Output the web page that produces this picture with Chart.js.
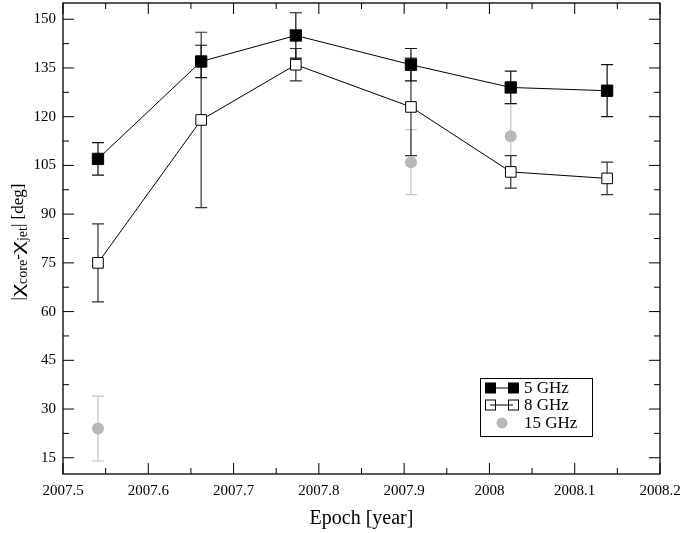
<!DOCTYPE html>
<html>
<head>
<meta charset="utf-8">
<script src="https://cdn.jsdelivr.net/npm/chart.js@4.4.1/dist/chart.umd.min.js"></script>
<style>
  html, body { margin: 0; padding: 0; background: #fff; }
  #wrap { width: 682px; height: 533px; }
</style>
</head>
<body>
<div id="wrap"><canvas id="chart"></canvas></div>
<script>
// Data
const epochs = [2007.541, 2007.662, 2007.773, 2007.908, 2008.025, 2008.138];
const deg5 = [107, 137, 145, 136, 129, 128];
const err5 = [5, 5, 7, 5, 5, 8];
const deg8 = [75, 119, 136, 123, 103, 101];
const err8 = [12, 27, 5, 15, 5, 5];
const epochs15 = [2007.541, 2007.908, 2008.025];
const deg15 = [24, 106, 114];
const err15 = [10, 10, 10];

const xTicks = [2007.5, 2007.6, 2007.7, 2007.8, 2007.9, 2008.0, 2008.1, 2008.2];
const yTicks = [15, 30, 45, 60, 75, 90, 105, 120, 135, 150];

const FONT = "'Liberation Serif', 'DejaVu Serif', serif";
const GREY = '#b8b8b8';

const toPoints = (xs, ys) => xs.map((x, i) => ({ x: x, y: ys[i] }));

// Error bars, drawn under the markers
const errorBars = {
  id: 'errorBars',
  beforeDatasetsDraw(chart) {
    const ctx = chart.ctx;
    const xs = chart.scales.x, ys = chart.scales.y;
    const sets = [
      [epochs15, deg15, err15, '#c4c4c4'],
      [epochs, deg8, err8, '#333'],
      [epochs, deg5, err5, '#111']
    ];
    ctx.save();
    ctx.lineWidth = 1.2;
    sets.forEach(([xv, yv, ev, color]) => {
      ctx.strokeStyle = color;
      xv.forEach((x, i) => {
        const px = xs.getPixelForValue(x);
        const top = ys.getPixelForValue(yv[i] + ev[i]);
        const bot = ys.getPixelForValue(yv[i] - ev[i]);
        ctx.beginPath();
        ctx.moveTo(px, top); ctx.lineTo(px, bot);
        ctx.moveTo(px - 6, top); ctx.lineTo(px + 6, top);
        ctx.moveTo(px - 6, bot); ctx.lineTo(px + 6, bot);
        ctx.stroke();
      });
    });
    ctx.restore();
  }
};

// Frame, inward ticks, axis titles and legend
const frame = {
  id: 'frame',
  afterDraw(chart) {
    const ctx = chart.ctx;
    const a = chart.chartArea;
    const xs = chart.scales.x, ys = chart.scales.y;
    ctx.save();
    ctx.strokeStyle = '#000';
    ctx.lineWidth = 1.3;
    ctx.strokeRect(a.left, a.top, a.right - a.left, a.bottom - a.top);

    ctx.lineWidth = 1;
    ctx.beginPath();
    for (let i = 0; i < xTicks.length; i++) {
      const px = xs.getPixelForValue(xTicks[i]);
      ctx.moveTo(px, a.bottom); ctx.lineTo(px, a.bottom - 11);
      ctx.moveTo(px, a.top); ctx.lineTo(px, a.top + 11);
      if (i < xTicks.length - 1) {
        const pm = xs.getPixelForValue((xTicks[i] + xTicks[i + 1]) / 2);
        ctx.moveTo(pm, a.bottom); ctx.lineTo(pm, a.bottom - 6);
        ctx.moveTo(pm, a.top); ctx.lineTo(pm, a.top + 6);
      }
    }
    const yAll = [];
    yTicks.forEach(v => { yAll.push([v, 11]); yAll.push([v + 7.5, 6]); });
    yAll.push([yTicks[0] - 7.5, 6]);
    yAll.forEach(([v, len]) => {
      if (v < ys.min || v > ys.max) return;
      const py = ys.getPixelForValue(v);
      ctx.moveTo(a.left, py); ctx.lineTo(a.left + len, py);
      ctx.moveTo(a.right, py); ctx.lineTo(a.right - len, py);
    });
    ctx.stroke();

    // x title
    ctx.fillStyle = '#000';
    ctx.font = '20px ' + FONT;
    ctx.textAlign = 'center';
    ctx.textBaseline = 'middle';
    ctx.fillText('Epoch [year]', (a.left + a.right) / 2, 519);

    // y title with subscripts; chi glyphs are stretched like the original
    const parts = [
      ['|', 17, 0, 1], ['\u03c7', 19, 0, 1.55], ['core', 14, 4, 1],
      ['-', 17, 0, 1], ['\u03c7', 19, 0, 1.55], ['jet', 14, 4, 1], ['| [deg]', 17, 0, 1]
    ];
    const widthOf = p => { ctx.font = p[1] + 'px ' + FONT; return ctx.measureText(p[0]).width * p[3]; };
    const total = parts.reduce((s, p) => s + widthOf(p), 0);
    ctx.translate(23, 242);
    ctx.rotate(-Math.PI / 2);
    ctx.textAlign = 'left';
    ctx.textBaseline = 'alphabetic';
    let cx = -total / 2;
    parts.forEach(p => {
      const w = widthOf(p);
      ctx.save();
      ctx.translate(cx, p[2]);
      ctx.scale(p[3], 1);
      ctx.fillText(p[0], 0, 0);
      ctx.restore();
      cx += w;
    });
    ctx.restore();

    // legend
    ctx.save();
    ctx.lineWidth = 1;
    ctx.strokeStyle = '#000';
    ctx.fillStyle = '#fff';
    ctx.fillRect(480, 378, 112, 58);
    ctx.strokeRect(480.5, 378.5, 112, 58);
    const rows = [
      ['5 GHz', 388, 'filled'], ['8 GHz', 405, 'open'], ['15 GHz', 423, 'dot']
    ];
    rows.forEach(([label, y, kind]) => {
      if (kind === 'dot') {
        ctx.fillStyle = GREY;
        ctx.beginPath();
        ctx.arc(502, y, 5.5, 0, Math.PI * 2);
        ctx.fill();
      } else {
        ctx.strokeStyle = '#000';
        ctx.beginPath();
        ctx.moveTo(490, y); ctx.lineTo(513, y);
        ctx.stroke();
        [485, 508].forEach(sx => {
          if (kind === 'filled') {
            ctx.fillStyle = '#000';
            ctx.fillRect(sx, y - 5.5, 11, 11);
          } else {
            ctx.strokeRect(sx + 0.5, y - 5, 10, 10);
          }
        });
      }
      ctx.fillStyle = '#000';
      ctx.font = '17px ' + FONT;
      ctx.textAlign = 'left';
      ctx.textBaseline = 'middle';
      ctx.fillText(label, 524, y + 1);
    });
    ctx.restore();
  }
};

new Chart(document.getElementById('chart'), {
  type: 'scatter',
  data: {
    datasets: [
      {
        label: '15 GHz',
        data: toPoints(epochs15, deg15),
        pointStyle: 'circle',
        pointRadius: 6,
        backgroundColor: GREY,
        borderColor: GREY,
        borderWidth: 0,
        showLine: false,
        order: 3
      },
      {
        label: '8 GHz',
        data: toPoints(epochs, deg8),
        pointStyle: 'rect',
        pointRadius: 7.5,
        backgroundColor: '#fff',
        borderColor: '#000',
        borderWidth: 1,
        showLine: true,
        order: 2
      },
      {
        label: '5 GHz',
        data: toPoints(epochs, deg5),
        pointStyle: 'rect',
        pointRadius: 8,
        backgroundColor: '#000',
        borderColor: '#000',
        borderWidth: 1,
        showLine: true,
        order: 1
      }
    ]
  },
  options: {
    responsive: true,
    maintainAspectRatio: false,
    animation: false,
    layout: { autoPadding: false, padding: { top: 3, right: 22, left: 0, bottom: 0 } },
    plugins: { legend: { display: false }, tooltip: { enabled: false } },
    scales: {
      x: {
        type: 'linear',
        min: 2007.5,
        max: 2008.2,
        afterBuildTicks: s => { s.ticks = xTicks.map(v => ({ value: v })); },
        afterFit: s => { s.height = 59; s.paddingLeft = 0; s.paddingRight = 0; },
        grid: { display: false, drawTicks: false },
        border: { display: false },
        ticks: {
          padding: 8,
          color: '#000',
          maxRotation: 0,
          autoSkip: false,
          font: { family: FONT, size: 15 },
          callback: v => String(Math.round(v * 10) / 10)
        }
      },
      y: {
        min: 10,
        max: 155,
        afterBuildTicks: s => { s.ticks = yTicks.map(v => ({ value: v })); },
        afterFit: s => { s.width = 63; s.paddingTop = 0; s.paddingBottom = 0; },
        grid: { display: false, drawTicks: false },
        border: { display: false },
        ticks: {
          padding: 7,
          color: '#000',
          autoSkip: false,
          font: { family: FONT, size: 15 }
        }
      }
    }
  },
  plugins: [errorBars, frame]
});
</script>
</body>
</html>
